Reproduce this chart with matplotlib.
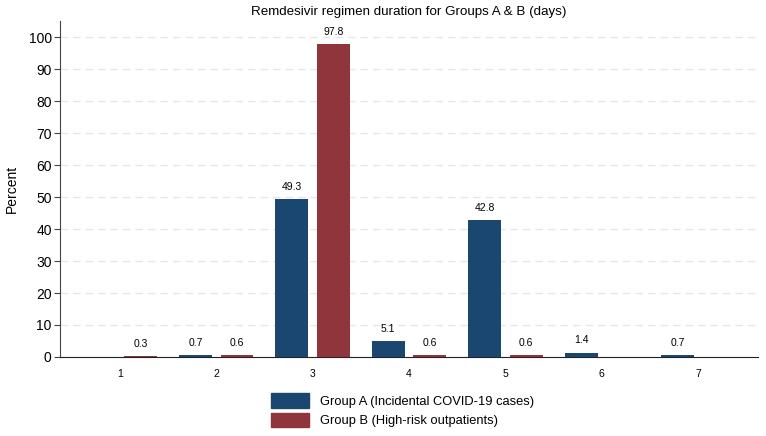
import matplotlib.pyplot as plt
import numpy as np
from matplotlib.patches import Patch

days = [1, 2, 3, 4, 5, 6, 7]
group_a = [None, 0.7, 49.3, 5.1, 42.8, 1.4, 0.7]
group_b = [0.3, 0.6, 97.8, 0.6, 0.6, None, None]
labels = ["Group A (Incidental COVID-19 cases)", "Group B (High-risk outpatients)"]
colors = ["#1a476f", "#90353b"]

plt.rcParams['font.family'] = ['Liberation Sans', 'DejaVu Sans']
fig = plt.figure(figsize=(7.66, 4.36), dpi=100)
ax = fig.add_axes([0.0783, 0.1812, 0.9113, 0.7706])

x = np.array(days, dtype=float)
w = 0.34
off = 0.215
for vals, sign, c in [(group_a, -1, colors[0]), (group_b, 1, colors[1])]:
    for xi, v in zip(x, vals):
        if v is None:
            continue
        ax.bar(xi + sign * off, v, width=w, color=c, zorder=3)
        ax.text(xi + sign * off, v + 2.2, f"{v:.1f}", ha='center', va='bottom', fontsize=7.5)

ax.set_xlim(0.38, 7.62)
ax.set_ylim(0, 105)
ax.set_yticks(range(0, 101, 10))
ax.set_xticks(days)
ax.set_xticklabels([str(d) for d in days], fontsize=7.5)
ax.tick_params(axis='x', length=0, pad=9)
ax.tick_params(axis='y', labelsize=10, length=4, color='#444444', pad=2)
ax.yaxis.grid(True, linestyle=(0, (6, 4)), color='#e6e6e6', linewidth=0.9, zorder=0)
for s in ['top', 'right']:
    ax.spines[s].set_visible(False)
ax.spines['left'].set_color('#444444')
ax.spines['bottom'].set_color('#222222')
ax.set_ylabel("Percent", fontsize=10, labelpad=7)
ax.set_title("Remdesivir regimen duration for Groups A & B (days)", fontsize=9.6, pad=4)

handles = [Patch(color=colors[0]), Patch(color=colors[1])]
fig.legend(handles, labels, loc='upper center', bbox_to_anchor=(0.525, 0.125), frameon=False,
           fontsize=9.3, handlelength=3.0, handleheight=1.4, labelspacing=0.35, handletextpad=0.8, ncol=1)

fig.savefig("out.png", dpi=100)
